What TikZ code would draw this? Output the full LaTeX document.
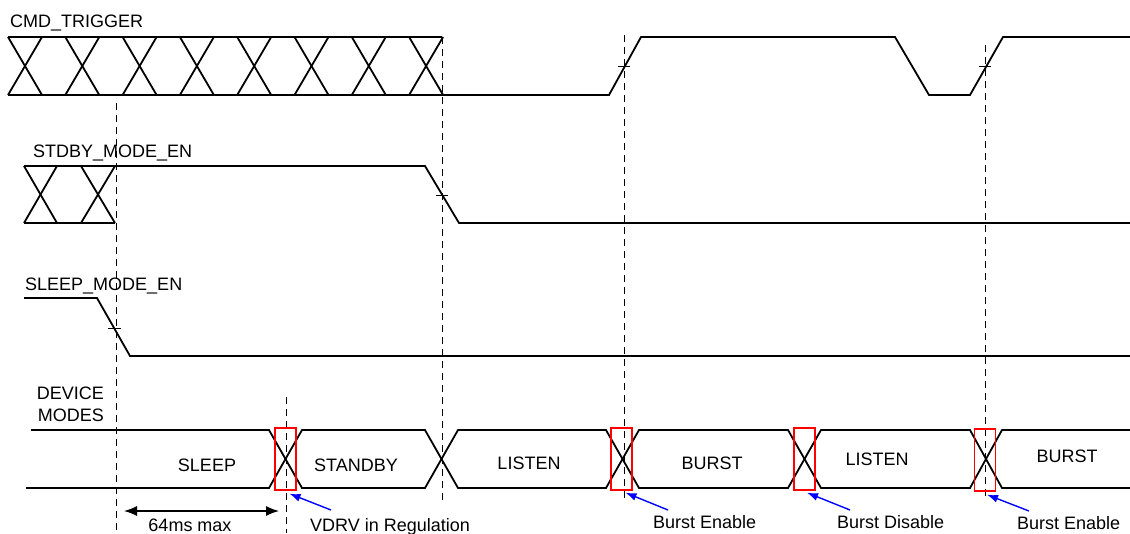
\documentclass[tikz,border=0pt]{standalone}
\usepackage{fontspec}
\setmainfont{Liberation Sans}
\usetikzlibrary{arrows.meta}
\begin{document}
\begin{tikzpicture}[x=1pt,y=-1pt,
  sig/.style={line width=1.8pt, line join=miter},
  guide/.style={line width=0.8pt, dash pattern=on 7pt off 5pt},
  tickmark/.style={line width=0.7pt},
  hilite/.style={draw=red, line width=1.4pt, inner sep=0pt, minimum width=21pt, minimum height=62pt},
  callout/.style={draw=blue, line width=1.4pt, -{Latex[length=11pt,width=8pt]}},
  dimline/.style={line width=1.3pt, {Latex[length=13pt,width=10pt]}-{Latex[length=13pt,width=10pt]}},
  lbl/.style={inner sep=0pt, font=\fontsize{18}{21}\selectfont},
]
\useasboundingbox (0,0) rectangle (1130,533);

% ---------- guide lines ----------
\draw[guide] (116,103) -- (116,533);
\draw[guide] (442,37) -- (442,500);
\draw[guide] (624,35) -- (624,500);
\draw[guide] (985,45) -- (985,500);
\draw[guide] (286,397) -- (286,533);

% ---------- CMD_TRIGGER ----------
\node[lbl, anchor=base west] (lcmd) at (10,27) {CMD\_TRIGGER};
\draw[sig] (8,37) -- (442,37);
\foreach \c in {0,...,7} {
  \draw[sig] ({25+57.3*\c-17},37) -- ({25+57.3*\c+17},95);
  \draw[sig] ({25+57.3*\c-17},95) -- ({25+57.3*\c+17},37);
}
\draw[sig] (8,95) -- (609,95) -- (641,37) -- (895,37) -- (929,95) -- (970,95) -- (1003,37) -- (1130,37);
\draw[tickmark] (618,66) -- (630,66);
\draw[tickmark] (979,66) -- (991,66);

% ---------- STDBY_MODE_EN ----------
\node[lbl, anchor=base west] (lstb) at (33,157) {STDBY\_MODE\_EN};
\draw[sig] (24,223) -- (115,223);
\draw[sig] (24,166) -- (57,223);
\draw[sig] (24,223) -- (57,166);
\draw[sig] (81,166) -- (115,223);
\draw[sig] (81,223) -- (115,166);
\draw[sig] (24,166) -- (425,166) -- (459,223) -- (1130,223);
\draw[tickmark] (436,195) -- (448,195);

% ---------- SLEEP_MODE_EN ----------
\node[lbl, anchor=base west] (lslp) at (25,290) {SLEEP\_MODE\_EN};
\draw[sig] (24,298) -- (97,298) -- (130,356) -- (1130,356);
\draw[tickmark] (108,328) -- (121,328);

% ---------- DEVICE MODES ----------
\node[lbl, anchor=base east] (ldev1) at (104,399) {DEVICE};
\node[lbl, anchor=base east] (ldev2) at (104,421) {MODES};
\draw[sig] (31,430) -- (269,430) -- (302,488) -- (425,488) -- (458,430) -- (606,430) -- (639,488) -- (788,488) -- (821,430) -- (970,430) -- (1002,488) -- (1130,488);
\draw[sig] (26,488) -- (269,488) -- (302,430) -- (425,430) -- (458,488) -- (606,488) -- (639,430) -- (788,430) -- (821,488) -- (970,488) -- (1002,430) -- (1130,430);

\node[lbl, anchor=base] (msleep) at (207,471) {SLEEP};
\node[lbl, anchor=base] (mstby) at (356,471) {STANDBY};
\node[lbl, anchor=base] (mlis1) at (529,469) {LISTEN};
\node[lbl, anchor=base] (mbur1) at (712,469) {BURST};
\node[lbl, anchor=base] (mlis2) at (877,465) {LISTEN};
\node[lbl, anchor=base] (mbur2) at (1067,462) {BURST};

% ---------- highlight boxes ----------
\node[hilite] (r1) at (285.5,459) {};
\node[hilite] (r2) at (621.5,459) {};
\node[hilite] (r3) at (804.5,459) {};
\node[hilite] (r4) at (985,460) {};

% ---------- 64ms max ----------
\coordinate (m1) at (124,511);
\coordinate (m2) at (279,511);
\draw[dimline] (m1) -- (m2);
\node[lbl, anchor=base] (tmax) at (190,531) {64ms max};

% ---------- callouts ----------
\node[lbl, anchor=base west] (t1) at (310,531) {VDRV in Regulation};
\node[lbl, anchor=base west] (t2) at (653,528) {Burst Enable};
\node[lbl, anchor=base west] (t3) at (837,528) {Burst Disable};
\node[lbl, anchor=base west] (t4) at (1017,529) {Burst Enable};
\coordinate (a1) at (331,510);
\coordinate (a2) at (668,510);
\coordinate (a3) at (850,510);
\coordinate (a4) at (1029,511);
\draw[callout] (a1) -- ([xshift=4pt,yshift=-3pt]r1.south);
\draw[callout] (a2) -- ([xshift=4pt,yshift=-2pt]r2.south);
\draw[callout] (a3) -- ([xshift=2.5pt,yshift=-2pt]r3.south);
\draw[callout] (a4) -- ([xshift=2pt,yshift=-3pt]r4.south);
\end{tikzpicture}
\end{document}
